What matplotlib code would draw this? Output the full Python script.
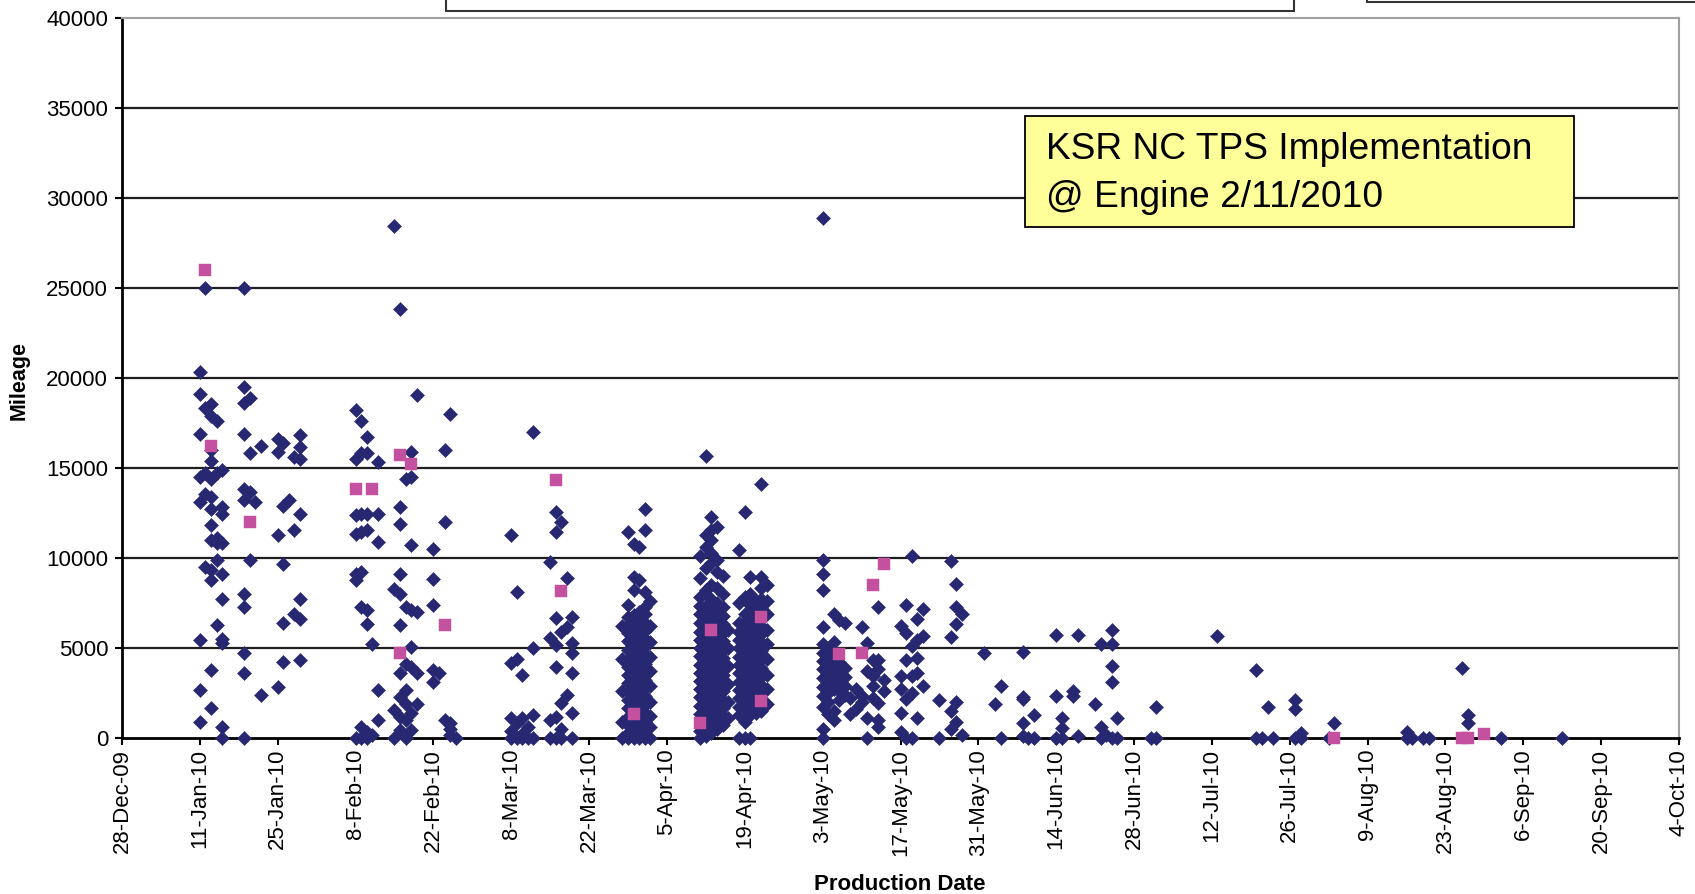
import matplotlib
matplotlib.use('Agg')
import pandas as pd
import matplotlib.pyplot as plt
from matplotlib.patches import Rectangle

plt.rcParams['font.family'] = ['Liberation Sans', 'DejaVu Sans']

# navy diamonds: production date and the mileages read for that date
navy_dates = [
    '2010-01-11', '2010-01-12', '2010-01-13', '2010-01-14', '2010-01-15',
    '2010-01-19', '2010-01-20', '2010-01-21', '2010-01-22', '2010-01-25',
    '2010-01-26', '2010-01-27', '2010-01-28', '2010-01-29',
    '2010-02-08', '2010-02-09', '2010-02-10', '2010-02-11', '2010-02-12',
    '2010-02-15', '2010-02-16', '2010-02-17', '2010-02-18', '2010-02-19',
    '2010-02-22', '2010-02-23', '2010-02-24', '2010-02-25', '2010-02-26',
    '2010-03-08', '2010-03-09', '2010-03-10', '2010-03-11', '2010-03-12',
    '2010-03-15', '2010-03-16', '2010-03-17', '2010-03-18', '2010-03-19',
    '2010-03-28', '2010-03-29', '2010-03-30', '2010-03-31', '2010-04-01', '2010-04-02',
    '2010-04-11', '2010-04-12', '2010-04-13', '2010-04-14', '2010-04-15', '2010-04-16',
    '2010-04-18', '2010-04-19', '2010-04-20', '2010-04-21', '2010-04-22', '2010-04-23',
    '2010-05-03', '2010-05-04', '2010-05-05', '2010-05-06', '2010-05-07', '2010-05-08',
    '2010-05-09', '2010-05-10', '2010-05-11', '2010-05-12', '2010-05-13', '2010-05-14',
    '2010-05-17', '2010-05-18', '2010-05-19', '2010-05-20', '2010-05-21',
    '2010-05-24', '2010-05-26', '2010-05-27', '2010-05-28',
    '2010-06-01', '2010-06-03', '2010-06-04', '2010-06-08', '2010-06-09', '2010-06-10',
    '2010-06-14', '2010-06-15', '2010-06-17', '2010-06-18', '2010-06-21', '2010-06-22',
    '2010-06-23', '2010-06-24', '2010-06-25', '2010-07-01', '2010-07-02', '2010-07-13',
    '2010-07-20', '2010-07-21', '2010-07-22', '2010-07-23', '2010-07-27', '2010-07-28',
    '2010-08-02', '2010-08-03', '2010-08-16', '2010-08-17', '2010-08-19', '2010-08-20',
    '2010-08-26', '2010-08-27', '2010-09-02', '2010-09-13',
]
navy_miles = [
    [20300, 19100, 16900, 14500, 13100, 5420, 2650, 890],
    [25000, 18300, 14700, 13550, 9490],
    [18550, 17900, 16000, 15400, 14400, 13400, 12700, 11800, 10970, 9300, 8750, 3750, 1630],
    [17600, 14700, 11100, 10800, 9860, 6250],
    [14900, 12800, 12450, 10800, 9120, 7730, 5500, 5240, 610, 0],
    [25000, 19500, 18600, 16900, 13840, 13200, 8010, 7270, 4680, 3570, 0],
    [18900, 15800, 13650, 9860],
    [13100],
    [16200, 2370],
    [16600, 15870, 11250, 2830],
    [16400, 12900, 9680, 6350, 4220],
    [13200],
    [15600, 11520, 6900],
    [16800, 16150, 15500, 12450, 7730, 6620, 4310],
    [18200, 15500, 12360, 11340, 9120, 8750, 0],
    [17600, 15800, 12450, 11430, 9210, 7270, 600, 0],
    [16700, 15800, 12450, 11525, 7085, 6345, 300, 0],
    [5235, 150],
    [15300, 12450, 10880, 2645, 980],
    [28450, 8290, 1540, 0],
    [23800, 12820, 11900, 9120, 8010, 6250, 3570, 2280, 1170, 420],
    [14400, 7270, 4120, 2650, 1900, 980, 0],
    [15900, 14500, 10700, 7085, 5050, 3940, 1350, 420],
    [19070, 6990, 3570, 1900],
    [10500, 8840, 7360, 3750, 3100],
    [3570],
    [16000, 12000, 980],
    [18000, 800, 500, 150],
    [0],
    [11250, 4130, 1070, 400, 0],
    [8110, 4400, 800, 0],
    [3480, 1100, 200, 0],
    [600, 0],
    [16990, 4960, 1260, 0],
    [9740, 5520, 1000, 0],
    [12540, 11430, 6630, 5140, 3940, 1170, 0],
    [11990, 5880, 1910, 500, 0],
    [8850, 6160, 2370],
    [6720, 5240, 4680, 3570, 1350, 0],
    [6200, 4400, 2600, 900, 0],
    [11430, 7370, 6700, 6250, 5800, 5350, 4850, 4400, 3950, 3500, 3050, 2550, 2100, 1650, 1150, 700, 250, 0],
    [10790, 8935, 8190, 6800, 6350, 5900, 5450, 5000, 4550, 4100, 3650, 3200, 2700, 2250, 1800, 850, 400, 0],
    [10600, 8750, 7000, 6550, 6050, 5600, 5100, 4650, 4200, 3750, 3300, 2850, 2350, 1900, 1400, 950, 500, 0],
    [12730, 11530, 8100, 7250, 6900, 6400, 5950, 5500, 5050, 4600, 4100, 3650, 3200, 2750, 2300, 1800, 1350, 900, 450, 0],
    [7600, 6200, 5300, 4500, 3700, 2900, 2000, 1200, 600, 0],
    [10080, 8860, 7800, 7300, 6850, 6400, 5900, 5450, 5000, 4550, 4050, 3600, 3150, 2700, 2250, 1750, 1300, 350, 0],
    [15650, 11250, 10600, 9420, 8200, 7340, 7000, 6500, 6050, 5600, 5150, 4700, 4200, 3750, 3300, 2850, 2400, 1950, 1500, 1000, 550, 100],
    [12270, 11530, 10970, 10260, 9700, 8500, 7700, 7150, 6700, 6250, 5750, 5300, 4850, 4400, 3950, 3450, 3000, 2550, 2100, 1600, 1150, 700, 250],
    [11710, 9900, 9230, 8300, 7500, 6950, 6500, 6000, 5550, 5100, 4650, 4150, 3700, 3250, 2800, 2350, 1850, 1400, 950, 500],
    [9000, 8000, 7250, 6750, 6300, 5800, 5350, 4900, 4450, 3950, 3500, 3050, 2600, 2100, 1650, 1200, 700],
    [6000, 5000, 4000, 3000, 2000, 1100],
    [10420, 7500, 6400, 5900, 5450, 5000, 4500, 4050, 3600, 3100, 2650, 2200, 1700, 1250, 0],
    [12540, 7800, 6900, 6450, 5950, 5500, 5050, 4550, 4100, 3650, 3150, 2700, 2250, 1800, 1300, 850, 0],
    [8935, 8000, 7350, 6850, 6400, 5900, 5450, 5000, 4550, 4050, 3600, 3150, 2650, 2200, 1750, 1250, 0],
    [7600, 7000, 6500, 6050, 5600, 5100, 4650, 4200, 3700, 3250, 2800, 2300, 1850, 1400],
    [14120, 8935, 8300, 7700, 7200, 6200, 5750, 5300, 4800, 4350, 3900, 3400, 2950, 2500, 1500],
    [8500, 7600, 6900, 6000, 5200, 4400, 3500, 2700, 1900],
    [28860, 9880, 9080, 8230, 6150, 5200, 4700, 4250, 3800, 3300, 2800, 2300, 1710, 460, 0],
    [5000, 4450, 3950, 3500, 3000, 2500, 2000, 1300],
    [6900, 5300, 4800, 4300, 3700, 3200, 2700, 1500, 980],
    [6560, 4200, 3600, 3100, 2600, 2100],
    [6380, 3900, 3400, 2900, 2400],
    [2200, 1300],
    [2700, 1600],
    [6150, 2340, 1970],
    [5270, 3700, 1070, 0],
    [4340, 3450, 2900, 2200],
    [7240, 4340, 3800, 1940, 980, 570],
    [3200, 2600],
    [6200, 3420, 2680, 1350, 330],
    [7400, 5800, 4340, 2130, 0],
    [10100, 5080, 3420, 2500, 0],
    [6600, 5450, 4440, 3600, 1070],
    [7160, 5640, 2870],
    [2100, 0],
    [9800, 5600, 1460, 490],
    [8550, 7290, 6300, 2010, 850],
    [6850, 150],
    [4700],
    [1900],
    [2870, 0],
    [4770, 2280, 2130, 800, 100],
    [0],
    [1260, 0],
    [5700, 2300, 0],
    [1070, 520, 0],
    [2600, 2300],
    [5700, 100],
    [1900],
    [5230, 610, 0],
    [170],
    [6000, 5230, 3980, 3100, 0],
    [1120, 0],
    [0],
    [1680, 0],
    [5660],
    [3790, 0],
    [0],
    [1680],
    [0],
    [2090, 1570, 0],
    [240, 0],
    [0],
    [800],
    [330, 0],
    [0],
    [0],
    [0],
    [3890],
    [1260, 800],
    [0],
    [0],
]

# pink squares
pink_dates = [
    '2010-01-12', '2010-01-13', '2010-01-20', '2010-02-08', '2010-02-11',
    '2010-02-16', '2010-02-18', '2010-02-16', '2010-02-24', '2010-03-16',
    '2010-03-17', '2010-03-30', '2010-04-11', '2010-04-13', '2010-04-22',
    '2010-04-22', '2010-05-06', '2010-05-10', '2010-05-12', '2010-05-14',
    '2010-08-03', '2010-08-26', '2010-08-27', '2010-08-30',
]
pink_miles = [
    26000, 16200, 12000, 13800, 13800,
    15700, 15200, 4700, 6250, 14300,
    8160, 1300, 830, 5980, 6720,
    2050, 4645, 4680, 8510, 9640,
    0, 0, 0, 200,
]

note_text = 'KSR NC TPS Implementation\n@ Engine 2/11/2010'
x_start, x_end = '2009-12-28', '2010-10-04'
y_ticks = list(range(0, 40001, 5000))

W, H = 1695, 894
fig = plt.figure(figsize=(W / 100, H / 100), dpi=100)
ax = fig.add_axes([122 / W, 1 - 737.7 / H, (1679 - 122) / W, (737.7 - 18) / H])

for y in y_ticks[1:-1]:
    ax.axhline(y, color='#1e1e1e', lw=1.6, zorder=1)

nx = [pd.Timestamp(d) for d, ms in zip(navy_dates, navy_miles) for _ in ms]
ny = [m for ms in navy_miles for m in ms]
ax.plot(nx, ny, linestyle='none', marker='D', ms=7.3, mfc='#282872',
        mec='#282872', mew=0.4, zorder=3, clip_on=False)
ax.plot(pd.to_datetime(pink_dates), pink_miles, linestyle='none', marker='s',
        ms=8.8, mfc='#c4519f', mec='#c4519f', mew=0.3, zorder=4, clip_on=False)

ax.set_xlim(pd.Timestamp(x_start), pd.Timestamp(x_end))
ax.set_ylim(0, 40000)
ax.set_yticks(y_ticks)
ax.set_yticklabels([str(v) for v in y_ticks])
xt = pd.date_range(x_start, x_end, freq='14D')
ax.set_xticks(xt)
ax.set_xticklabels([f'{d.day}-{d:%b}-{d:%y}' for d in xt], rotation=90, va='top', ha='center')

ax.tick_params(axis='both', direction='out', length=5, width=1.5, color='black', labelsize=16)
ax.tick_params(axis='x', pad=3)
ax.tick_params(axis='y', pad=5)
for s in ['left', 'bottom']:
    ax.spines[s].set_color('black')
    ax.spines[s].set_linewidth(2)
for s in ['top', 'right']:
    ax.spines[s].set_color('#a0a0a0')
    ax.spines[s].set_linewidth(1.5)

fig.text(900 / W, 1 - 884 / H, 'Production Date', ha='center', va='center',
         fontsize=16, fontweight='bold')
fig.text(19 / W, 1 - 381 / H, 'Mileage', ha='center', va='center',
         rotation=90, fontsize=15.5, fontweight='bold')

# yellow annotation box
fig.patches.append(Rectangle((1025 / W, 1 - 227 / H), 549 / W, 111 / H,
                             transform=fig.transFigure, facecolor='#ffff99',
                             edgecolor='black', lw=1.3, zorder=5))
fig.text(1046 / W, 1 - 173.5 / H, note_text, ha='left', va='center',
         fontsize=26.7, linespacing=1.45, zorder=6)

# cut-off boxes at the top edge
fig.patches.append(Rectangle((446 / W, 1 - 11 / H), (1294 - 446) / W, 0.1,
                             transform=fig.transFigure, facecolor='white',
                             edgecolor='#333333', lw=1.5))
fig.patches.append(Rectangle((1367 / W, 1 - 2 / H), 0.3, 0.1,
                             transform=fig.transFigure, facecolor='white',
                             edgecolor='#333333', lw=1.5))

fig.savefig('out.png', dpi=100)
